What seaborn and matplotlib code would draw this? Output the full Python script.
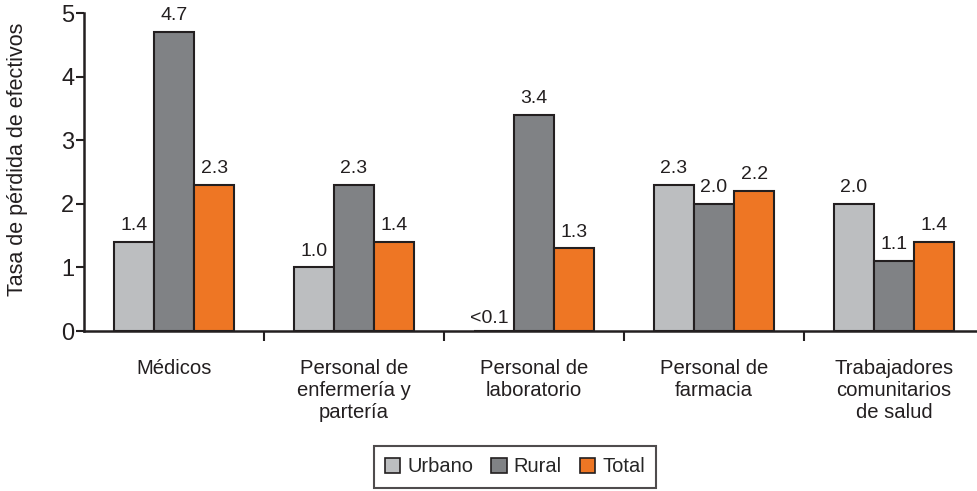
import pandas as pd
import seaborn as sns
import matplotlib.pyplot as plt
from matplotlib.patches import Patch

categories = ["Médicos", "Personal de\nenfermería y\npartería", "Personal de\nlaboratorio",
              "Personal de\nfarmacia", "Trabajadores\ncomunitarios\nde salud"]
urbano = [1.4, 1.0, 0.0, 2.3, 2.0]
rural = [4.7, 2.3, 3.4, 2.0, 1.1]
total = [2.3, 1.4, 1.3, 2.2, 1.4]
urbano_labels = ["1.4", "1.0", "<0.1", "2.3", "2.0"]
rural_labels = ["4.7", "2.3", "3.4", "2.0", "1.1"]
total_labels = ["2.3", "1.4", "1.3", "2.2", "1.4"]
series = ["Urbano", "Rural", "Total"]
colors = ["#BCBEC0", "#808285", "#EE7624"]
ink = "#231F20"

df = pd.DataFrame({
    "cat": categories * 3,
    "serie": [s for s in series for _ in categories],
    "valor": urbano + rural + total,
})

sns.set_theme(style="white")
plt.rcParams["font.family"] = ["Liberation Sans", "DejaVu Sans"]

fig = plt.figure(figsize=(9.78, 4.91), dpi=100)
ax = fig.add_axes([84 / 978, 1 - 331 / 491, 894 / 978, (331 - 13) / 491])

sns.barplot(data=df, x="cat", y="valor", hue="serie", palette=colors, saturation=1,
            width=0.672, edgecolor=ink, linewidth=1.5, legend=False, ax=ax)

ax.set_xlim(-0.5, 4.5 - 6 / 180)
ax.set_ylim(0, 5)
ax.set_yticks([0, 1, 2, 3, 4, 5])
ax.tick_params(axis="y", labelsize=17, length=6, width=1.5, color=ink,
               labelcolor=ink, direction="out", left=True, pad=1)
ax.set_ylabel("Tasa de pérdida de efectivos", fontsize=15.5, color=ink)
ax.yaxis.set_label_coords(-0.0625, 0.54)
ax.set_xlabel("")

# category labels without ticks, boundary ticks as minor
ax.set_xticks(range(5))
ax.set_xticklabels(categories, fontsize=14.6, color=ink, linespacing=1.2)
ax.tick_params(axis="x", which="major", length=0, pad=20)
ax.set_xticks([0.5, 1.5, 2.5, 3.5], minor=True)
ax.tick_params(axis="x", which="minor", length=7, width=1.5, color=ink,
               direction="out", bottom=True)

for s in ["top", "right"]:
    ax.spines[s].set_visible(False)
for s in ["left", "bottom"]:
    ax.spines[s].set_color(ink)
    ax.spines[s].set_linewidth(1.8)

# value labels
all_labels = [urbano_labels, rural_labels, total_labels]
for cont, labs in zip(ax.containers, all_labels):
    for bar, lab in zip(cont, labs):
        x = bar.get_x() + bar.get_width() / 2
        h = bar.get_height()
        if lab.startswith("<"):
            ax.text(bar.get_x() + bar.get_width() - 0.03, 0.2, lab, ha="right",
                    va="center", fontsize=14, color=ink)
        else:
            ax.text(x, h + 0.12, lab, ha="center", va="bottom", fontsize=14, color=ink)

handles = [Patch(facecolor=c, edgecolor=ink, linewidth=1.2) for c in colors]
leg = fig.legend(handles, series, loc="center", bbox_to_anchor=(515 / 978, 1 - 467 / 491),
                 ncol=3, frameon=True, fontsize=14.5, handlelength=0.75, handleheight=0.75,
                 handletextpad=0.35, columnspacing=0.9, fancybox=False, borderpad=0.55)
leg.get_frame().set_edgecolor(ink)
leg.get_frame().set_linewidth(1.5)

fig.savefig("out.png", dpi=100)
